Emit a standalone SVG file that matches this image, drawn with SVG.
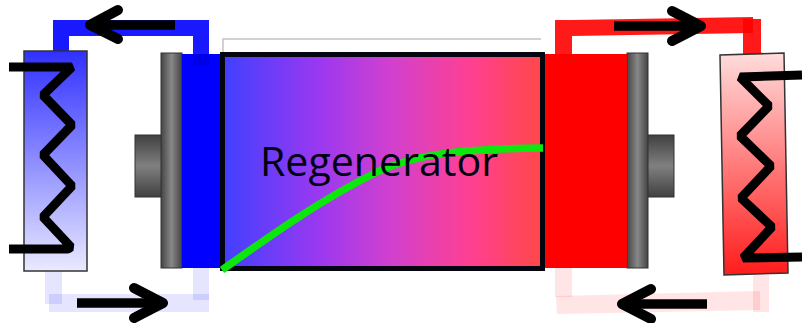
<svg xmlns="http://www.w3.org/2000/svg" width="802" height="323" viewBox="0 0 802 323">
<defs>
<linearGradient id="regen" x1="0" x2="1" y1="0" y2="0"><stop offset="0" stop-color="#4040ff"/><stop offset="0.3" stop-color="#9a38f0"/><stop offset="0.52" stop-color="#d040d0"/><stop offset="0.78" stop-color="#ff4090"/><stop offset="1" stop-color="#ff4848"/></linearGradient>
<linearGradient id="cold" x1="0" x2="0" y1="0" y2="1"><stop offset="0" stop-color="#3030ff"/><stop offset="1" stop-color="#eaeaff"/></linearGradient>
<linearGradient id="hot" x1="0" x2="0" y1="0" y2="1"><stop offset="0" stop-color="#ffdcdc"/><stop offset="1" stop-color="#ff1c1c"/></linearGradient>
<linearGradient id="metalH" x1="0" x2="1" y1="0" y2="0"><stop offset="0" stop-color="#444"/><stop offset="0.5" stop-color="#888"/><stop offset="1" stop-color="#444"/></linearGradient>
<linearGradient id="metalV" x1="0" x2="0" y1="0" y2="1"><stop offset="0" stop-color="#404040"/><stop offset="0.5" stop-color="#808080"/><stop offset="1" stop-color="#404040"/></linearGradient>
</defs>
<style>
.ln{fill:none;stroke:#000;stroke-width:10;stroke-linecap:round;stroke-linejoin:round}
.sh{fill:none;stroke:#000;stroke-width:9.5}
.coil{fill:none;stroke:#000;stroke-width:9;stroke-linejoin:bevel}
.metal{stroke:#333;stroke-width:1}
.bd{fill:#0000ff;opacity:.9}
.bl{fill:#0000ff;opacity:.1}
.rd{fill:#ff0000;opacity:.9}
.rl{fill:#ff0000;opacity:.1}
</style>
<rect width="802" height="323" fill="#fff"/>
<g id="top-line"><path d="M223 53V39H541" fill="none" stroke="#c4c4c4" stroke-width="1.5"/></g>
<g id="connectors">
<rect class="bd" x="53" y="36" width="16" height="23"/>
<rect class="bd" x="53" y="20" width="156" height="16"/>
<rect class="bd" x="193" y="36" width="16" height="30"/>
<rect class="bl" x="45" y="270" width="17" height="34"/>
<rect class="bl" x="49" y="294" width="160" height="18"/>
<rect class="bl" x="193" y="268" width="16" height="32"/>
<path class="rd" d="M555 20H572V54H555Z"/>
<path class="rd" d="M572 20L753 17V33L572 36Z"/>
<path class="rd" d="M743 19H761V54H743Z"/>
<path class="rl" d="M555 268H572V297H555Z"/>
<path class="rl" d="M556 296L760 291V310L557 314Z"/>
<path class="rl" d="M753 275H769V312H753Z"/>
</g>
<g id="cold-exchanger">
<rect x="24" y="51" width="63" height="220" fill="url(#cold)" stroke="#333" stroke-width="1.5"/>
<path class="coil" d="M9 67H72L43 95L72 125L43 155L72 186L43 217L71 247L68 249H9"/>
</g>
<g id="hot-exchanger">
<path d="M720 55L784 53L788 273L724 275Z" fill="url(#hot)" stroke="#333" stroke-width="1.5"/>
<path class="coil" d="M802 75L740 77L769 106L740 136L771 166L741 198L772 227L743 258L802 257"/>
</g>
<g id="cold-piston">
<rect x="135" y="135" width="27" height="62" fill="url(#metalV)" class="metal"/>
<rect x="161" y="53" width="21" height="215" fill="url(#metalH)" class="metal"/>
<rect x="182" y="54" width="40" height="214" fill="#0000ff"/>
<rect x="193" y="54" width="16" height="12" fill="#0000e8"/>
</g>
<g id="hot-piston">
<rect x="647" y="135" width="27" height="62" fill="url(#metalV)" class="metal"/>
<rect x="627" y="53" width="21" height="215" fill="url(#metalH)" class="metal"/>
<rect x="543" y="54" width="84" height="214" fill="#ff0000"/>
</g>
<g id="regenerator">
<rect x="222.5" y="54.5" width="320" height="214" fill="url(#regen)" stroke="#050510" stroke-width="5"/>
<path d="M222 270C270 236 320 200 377 172C420 152 470 149 543 148" fill="none" stroke="#0ce80c" stroke-width="7.5"/>
<text x="260" y="176" font-family="Open Sans, Liberation Sans, sans-serif" font-size="40.5" textLength="238" lengthAdjust="spacingAndGlyphs" fill="#000010">Regenerator</text>
</g>
<g id="arrows">
<path class="sh" d="M175 25H92"/><path class="ln" d="M118 10L90 25L118 39"/>
<path class="sh" d="M77 303H160"/><path class="ln" d="M134 288L163 303L134 318"/>
<path class="sh" d="M614 26H700"/><path class="ln" d="M672 11L701 26L672 41"/>
<path class="sh" d="M707 304H624"/><path class="ln" d="M651 289L622 304L651 319"/>
</g>
</svg>
